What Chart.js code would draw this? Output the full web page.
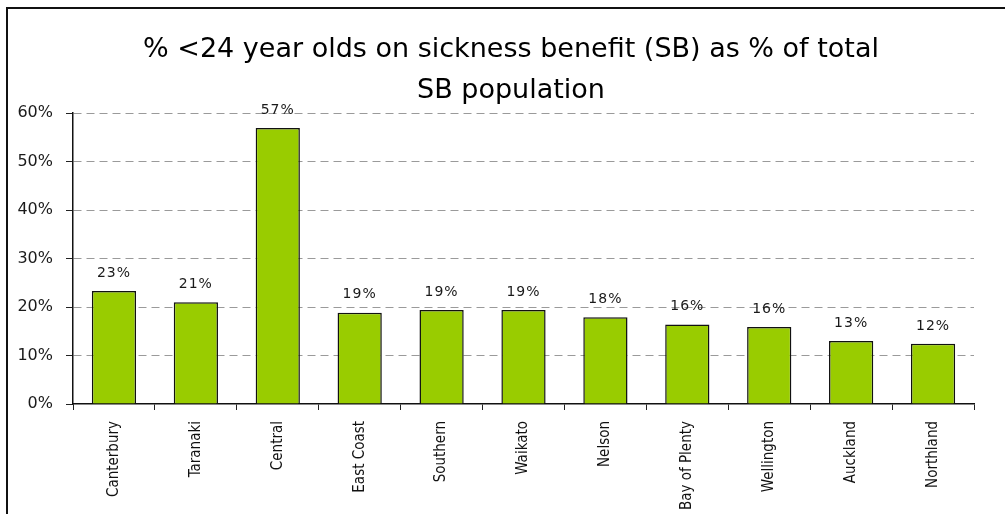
<!DOCTYPE html>
<html>
<head>
<meta charset="utf-8">
<script src="https://cdn.jsdelivr.net/npm/chart.js@4"></script>
<style>
  html, body { margin: 0; padding: 0; background: #fff; overflow: hidden; }
  #wrap { position: relative; width: 1005px; height: 514px; }
  #frame { position: absolute; left: 6px; top: 7px; width: 1100px; height: 600px;
           border-left: 2px solid #111; border-top: 2px solid #111; pointer-events: none; }
</style>
</head>
<body>
<div id="wrap">
  <canvas id="sbChart" width="1005" height="514"></canvas>
  <div id="frame"></div>
</div>
<script>
// Regions and share of under-24s on sickness benefit (%)
const regioes = ['Canterbury', 'Taranaki', 'Central', 'East Coast', 'Southern', 'Waikato', 'Nelson', 'Bay of Plenty', 'Wellington', 'Auckland', 'Northland'];
const percentuais = [23.3, 21.0, 56.9, 18.8, 19.4, 19.4, 17.9, 16.4, 15.9, 13.0, 12.4];
const ticksY = [0, 10, 20, 30, 40, 50, 60];

// Writes the rounded value above each bar
const rotulosBarras = {
    id: 'rotulosBarras',
    afterDatasetsDraw(chart) {
        const ctx = chart.ctx;
        const meta = chart.getDatasetMeta(0);
        ctx.save();
        ctx.font = '14px "DejaVu Sans"';
        ctx.fillStyle = '#1a1a1a';
        ctx.textAlign = 'center';
        ctx.textBaseline = 'middle';
        ctx.letterSpacing = '1px';
        meta.data.forEach((bar, i) => {
            ctx.fillText(Math.round(percentuais[i]) + '%', bar.x, bar.y - 18);
        });
        ctx.restore();
    }
};

const ctx = document.getElementById('sbChart').getContext('2d');
const grafico = new Chart(ctx, {
    type: 'bar',
    data: {
        labels: regioes,
        datasets: [{
            data: percentuais,
            backgroundColor: '#99cc00',
            borderColor: '#111',
            borderWidth: 1.5,
            barPercentage: 0.54,
            categoryPercentage: 1
        }]
    },
    options: {
        responsive: false,
        animation: false,
        layout: { padding: { left: 17, right: 0, top: 0, bottom: 0 } },
        plugins: {
            legend: { display: false },
            tooltip: { enabled: false },
            title: {
                display: true,
                text: ['% <24 year olds on sickness benefit (SB) as % of total', 'SB population'],
                color: '#000',
                font: { family: '"DejaVu Sans"', size: 27, weight: 'normal', lineHeight: 1.5 },
                padding: { top: 30, bottom: 2 }
            }
        },
        scales: {
            x: {
                offset: true,
                grid: { display: true, drawOnChartArea: false, offset: true, tickLength: 6, tickColor: '#222' },
                border: { display: true, color: '#111', width: 1.5 },
                ticks: {
                    minRotation: 90, maxRotation: 90, padding: 11,
                    color: '#111',
                    font: { family: '"DejaVu Sans Condensed"', size: 15 }
                },
                afterFit(scale) { scale.height = 110; }
            },
            y: {
                min: 0, max: 60,
                afterBuildTicks(scale) { scale.ticks = ticksY.map(v => ({ value: v })); },
                grid: {
                    color: c => c.tick && c.tick.value === 0 ? 'rgba(0,0,0,0)' : '#9a9a9a',
                    lineWidth: 1,
                    tickLength: 7,
                    tickColor: '#222',
                    tickBorderDash: []
                },
                border: { display: true, color: '#111', width: 1.5, dash: [8, 5] },
                ticks: {
                    padding: 13,
                    color: '#1a1a1a',
                    font: { family: '"DejaVu Sans"', size: 16 },
                    callback: v => v + '%'
                },
                afterFit(scale) { scale.width = 56; }
            },
            // empty right-hand axis, only reserves the margin on the right
            margemDireita: {
                type: 'linear',
                position: 'right',
                grid: { display: false },
                border: { display: false },
                ticks: { display: false },
                afterFit(scale) { scale.width = 31; }
            }
        }
    },
    plugins: [rotulosBarras]
});
</script>
</body>
</html>
